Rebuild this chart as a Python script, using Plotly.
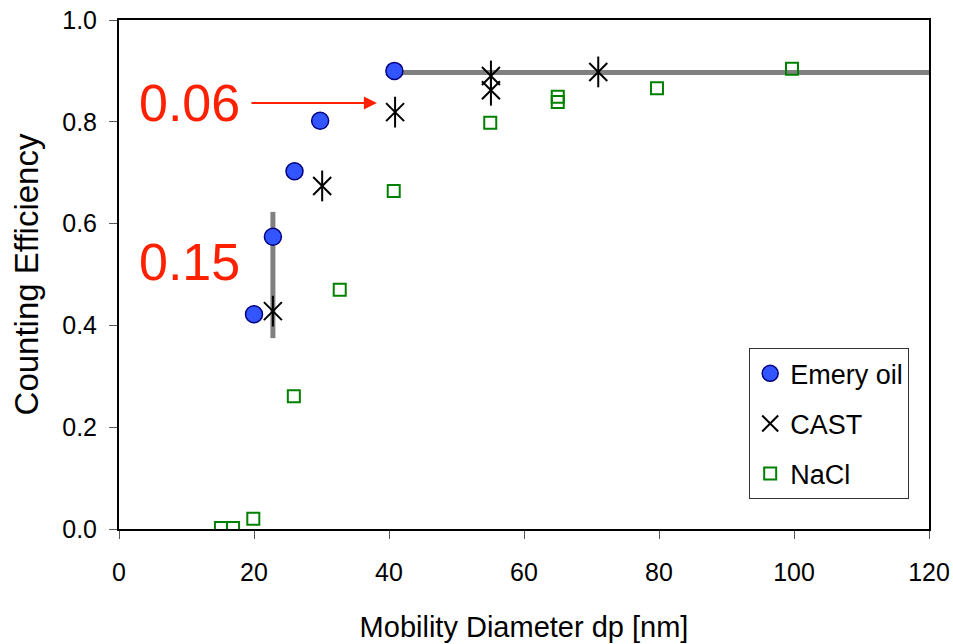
import plotly.graph_objects as go

# Data
emery_x = [20, 22.8, 26, 29.8, 40.8]
emery_y = [0.422, 0.574, 0.703, 0.802, 0.900]

cast_x = [22.8, 30.1, 40.9, 55.1, 55.1, 71.0]
cast_y = [0.428, 0.674, 0.819, 0.890, 0.862, 0.898]

nacl_x = [15.1, 16.9, 19.9, 25.9, 32.7, 40.7, 55.0, 65.0, 65.0, 79.7, 99.7]
nacl_y = [0.002, 0.002, 0.020, 0.261, 0.470, 0.664, 0.798, 0.849, 0.839, 0.866, 0.904]

# reference (gap) lines
plateau_x = [41, 120]
plateau_y = [0.897, 0.897]
gap_x = [22.8, 22.8]
gap_y = [0.375, 0.623]

label_top = "0.06"
label_bottom = "0.15"

x_ticks = [0, 20, 40, 60, 80, 100, 120]
y_ticks = [0.0, 0.2, 0.4, 0.6, 0.8, 1.0]

FONT = "Liberation Sans, Arial, sans-serif"
RED = "#ff2000"

fig = go.Figure()

fig.add_trace(go.Scatter(x=plateau_x, y=plateau_y, mode="lines",
                         line=dict(color="#808080", width=5), showlegend=False,
                         hoverinfo="skip"))
fig.add_trace(go.Scatter(x=gap_x, y=gap_y, mode="lines",
                         line=dict(color="#808080", width=5), showlegend=False,
                         hoverinfo="skip"))

fig.add_trace(go.Scatter(x=emery_x, y=emery_y, mode="markers", name="Emery oil",
                         legendgroup="a",
                         marker=dict(symbol="circle", size=17, color="#3355ff",
                                     line=dict(color="#000080", width=1.5))))
fig.add_trace(go.Scatter(x=cast_x, y=cast_y, mode="markers", name="CAST",
                         legendgroup="b",
                         marker=dict(symbol="x-thin-open", size=18, color="black",
                                     line=dict(color="black", width=2))))
fig.add_trace(go.Scatter(x=cast_x, y=cast_y, mode="markers", name="CAST",
                         legendgroup="b", showlegend=False,
                         marker=dict(symbol="line-ns-open", size=22, color="black",
                                     line=dict(color="black", width=2))))
fig.add_trace(go.Scatter(x=nacl_x, y=nacl_y, mode="markers", name="NaCl",
                         legendgroup="c",
                         marker=dict(symbol="square-open", size=12, color="#008000",
                                     line=dict(color="#008000", width=2))))

fig.add_annotation(x=10.5, y=0.837, text=label_top, showarrow=False,
                   font=dict(family=FONT, size=52, color=RED))
fig.add_annotation(x=10.5, y=0.525, text=label_bottom, showarrow=False,
                   font=dict(family=FONT, size=52, color=RED))
fig.add_annotation(x=38.2, y=0.837, ax=19.4, ay=0.837, axref="x", ayref="y",
                   xref="x", yref="y", text="", showarrow=True,
                   arrowhead=2, arrowsize=1.3, arrowwidth=2, arrowcolor=RED)

fig.update_xaxes(range=[0, 120], tickvals=x_ticks, ticks="outside", ticklen=8,
                 tickcolor="#555", tickwidth=1, automargin=False,
                 ticklabelstandoff=12,
                 showline=True, linecolor="black", linewidth=2, mirror=True,
                 showgrid=False, zeroline=False,
                 tickfont=dict(family=FONT, size=25, color="black"),
                 title=dict(text="Mobility Diameter dp [nm]", standoff=32,
                            font=dict(family=FONT, size=29, color="black")))
fig.update_yaxes(range=[0, 1.0], tickvals=y_ticks, tickformat=".1f",
                 ticks="outside", ticklen=8, tickcolor="#555", tickwidth=1,
                 automargin=False, ticklabelstandoff=7,
                 showline=True, linecolor="black", linewidth=2, mirror=True,
                 showgrid=False, zeroline=False,
                 tickfont=dict(family=FONT, size=25, color="black"),
                 title=dict(text="Counting Efficiency", standoff=14,
                            font=dict(family=FONT, size=33, color="black")))

fig.update_layout(
    width=953, height=644,
    margin=dict(l=119, r=24, t=20, b=115, autoexpand=False),
    plot_bgcolor="white", paper_bgcolor="white",
    legend=dict(x=0.778, y=0.355, xanchor="left", yanchor="top",
                bgcolor="white", bordercolor="#333", borderwidth=1,
                font=dict(family=FONT, size=27, color="black"),
                tracegroupgap=12, itemwidth=30),
)

fig.write_html("out.html",
               config={"displayModeBar": False},
               post_script="document.body.style.margin='0';document.body.style.overflow='hidden';")
